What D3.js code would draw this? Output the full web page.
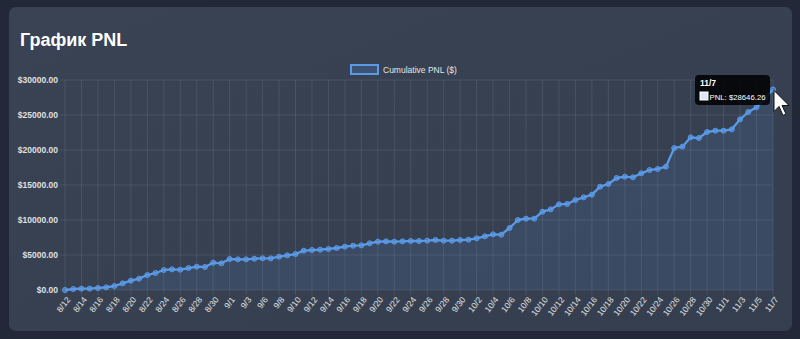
<!DOCTYPE html>
<html>
<head>
<meta charset="utf-8">
<script src="https://cdn.jsdelivr.net/npm/d3@7"></script>
<style>
  html, body { margin: 0; padding: 0; background: #222838; }
  svg { display: block; }
</style>
</head>
<body>
<svg id="chart" width="800" height="339"></svg>
<script>
// Trading days (9/4 had no trades)
const dates = [
  "8/12","8/13","8/14","8/15","8/16","8/17","8/18","8/19","8/20","8/21",
  "8/22","8/23","8/24","8/25","8/26","8/27","8/28","8/29","8/30","8/31",
  "9/1","9/2","9/3","9/5","9/6","9/7","9/8","9/9","9/10","9/11",
  "9/12","9/13","9/14","9/15","9/16","9/17","9/18","9/19","9/20","9/21",
  "9/22","9/23","9/24","9/25","9/26","9/27","9/28","9/29","9/30","10/1",
  "10/2","10/3","10/4","10/5","10/6","10/7","10/8","10/9","10/10","10/11",
  "10/12","10/13","10/14","10/15","10/16","10/17","10/18","10/19","10/20","10/21",
  "10/22","10/23","10/24","10/25","10/26","10/27","10/28","10/29","10/30","10/31",
  "11/1","11/2","11/3","11/4","11/5","11/6","11/7"
];

// Cumulative PNL in dollars, one value per day
const cumulativePnl = [
  0, 140, 190, 200, 290, 380, 570, 950, 1330, 1620,
  2140, 2430, 2860, 2950, 2900, 3140, 3330, 3290, 3900, 3810,
  4430, 4380, 4380, 4470, 4520, 4520, 4760, 4950, 5140, 5620,
  5710, 5760, 5860, 6000, 6190, 6330, 6380, 6670, 6900, 6950,
  6900, 6950, 7000, 7000, 7050, 7140, 7050, 7050, 7140, 7190,
  7380, 7670, 7950, 7900, 8860, 10000, 10190, 10190, 11190, 11520,
  12240, 12290, 12860, 13240, 13620, 14760, 15140, 16000, 16190, 16100,
  16670, 17140, 17290, 17620, 20290, 20480, 21810, 21710, 22570, 22760,
  22760, 22950, 24380, 25430, 26100, 27350, 28646.26
];

const yTicks = [0, 5000, 10000, 15000, 20000, 25000, 30000];
const title = "График PNL";
const seriesLabel = "Cumulative PNL ($)";

const svg = d3.select("#chart");
const W = 800, H = 339;
const lineColor = "#5b9ae8";
const font = "'Liberation Sans', Arial, sans-serif";

// card
svg.append("rect").attr("x", 0).attr("y", 0).attr("width", W).attr("height", H).attr("fill", "#222838");
const grad = svg.append("defs").append("linearGradient").attr("id", "cardGrad")
  .attr("x1", 0).attr("y1", 0).attr("x2", 1).attr("y2", 1);
grad.append("stop").attr("offset", "0%").attr("stop-color", "#394354");
grad.append("stop").attr("offset", "100%").attr("stop-color", "#343e4f");
svg.append("rect").attr("x", 9).attr("y", 7).attr("width", 783).attr("height", 324)
  .attr("rx", 7).attr("fill", "url(#cardGrad)");

svg.append("text").attr("x", 20).attr("y", 46).text(title)
  .attr("fill", "#ffffff").attr("font-family", font).attr("font-weight", "bold").attr("font-size", 18);

// legend
const legend = svg.append("g").attr("transform", "translate(351,65)");
legend.append("rect").attr("x", 0).attr("y", 0).attr("width", 27).attr("height", 9)
  .attr("fill", "rgba(91,154,232,0.2)").attr("stroke", lineColor).attr("stroke-width", 2);
legend.append("text").attr("x", 32).attr("y", 8).text(seriesLabel)
  .attr("fill", "#e6e6e6").attr("font-family", font).attr("font-size", 8.5);

const m = { left: 65, right: 773, top: 80, bottom: 290 };

const x = d3.scalePoint().domain(dates).range([m.left, m.right]);
const y = d3.scaleLinear().domain([0, 30000]).range([m.bottom, m.top]);

// grid
const gridColor = "rgba(255,255,255,0.09)";
const shownDates = dates.filter((d, i) => i % 2 === 0);
svg.append("g").selectAll("line").data(shownDates).join("line")
  .attr("x1", d => x(d)).attr("x2", d => x(d))
  .attr("y1", m.top).attr("y2", m.bottom + 5)
  .attr("stroke", gridColor);
svg.append("g").selectAll("line").data(yTicks).join("line")
  .attr("x1", m.left - 5).attr("x2", m.right)
  .attr("y1", d => y(d)).attr("y2", d => y(d))
  .attr("stroke", gridColor);

// y axis
const yAxis = d3.axisLeft(y).tickValues(yTicks).tickSize(0).tickPadding(7)
  .tickFormat(d => "$" + d.toFixed(2));
const yg = svg.append("g").attr("transform", `translate(${m.left},0)`).call(yAxis);
yg.select(".domain").remove();
yg.selectAll("text").attr("fill", "#e0e0e0").attr("font-family", font)
  .attr("font-size", 8.5).attr("font-weight", "bold");

// x axis
const xAxis = d3.axisBottom(x).tickValues(shownDates).tickSize(0).tickPadding(0);
const xg = svg.append("g").attr("transform", `translate(0,${m.bottom})`).call(xAxis);
xg.select(".domain").remove();
xg.selectAll("text")
  .attr("fill", "#e0e0e0").attr("font-family", font).attr("font-size", 8.5)
  .attr("text-anchor", "end").attr("dy", "0.35em")
  .attr("transform", "translate(3,8) rotate(-52)");

// area + line
const pts = dates.map((d, i) => ({ d, v: cumulativePnl[i] }));
const area = d3.area().x(p => x(p.d)).y0(m.bottom).y1(p => y(p.v));
svg.append("path").datum(pts).attr("d", area).attr("fill", "rgba(91,154,232,0.13)");
const line = d3.line().x(p => x(p.d)).y(p => y(p.v));
svg.append("path").datum(pts).attr("d", line).attr("fill", "none")
  .attr("stroke", lineColor).attr("stroke-width", 2.3).attr("stroke-linejoin", "round");
svg.append("g").selectAll("circle").data(pts).join("circle")
  .attr("cx", p => x(p.d)).attr("cy", p => y(p.v)).attr("r", 2.5)
  .attr("fill", "rgba(91,154,232,0.55)").attr("stroke", lineColor).attr("stroke-width", 1);

// tooltip for the last day
const last = pts[pts.length - 1];
const tip = svg.append("g").attr("transform", "translate(695,75)");
tip.append("rect").attr("width", 75).attr("height", 30).attr("rx", 4).attr("fill", "rgba(0,0,0,0.85)");
tip.append("text").attr("x", 5).attr("y", 11).text(last.d)
  .attr("fill", "#fff").attr("font-family", font).attr("font-weight", "bold").attr("font-size", 8.5);
tip.append("rect").attr("x", 5).attr("y", 17).attr("width", 8).attr("height", 8)
  .attr("fill", "#dde9fb").attr("stroke", "#ffffff").attr("stroke-width", 1);
tip.append("text").attr("x", 14.5).attr("y", 24.5).text("PNL: $" + last.v.toFixed(2))
  .attr("fill", "#fff").attr("font-family", font).attr("font-size", 8)
  .attr("textLength", 56).attr("lengthAdjust", "spacingAndGlyphs");

// pointer over the hovered point
const cx = x(last.d) + 1, cy = y(last.v) + 1;
svg.append("path")
  .attr("d", `M${cx},${cy} l0,21 l5,-5 l4,9 l3,-1.5 l-4,-8.5 l7,0 z`)
  .attr("fill", "#ffffff").attr("stroke", "#111").attr("stroke-width", 1).attr("stroke-linejoin", "round");
</script>
</body>
</html>
